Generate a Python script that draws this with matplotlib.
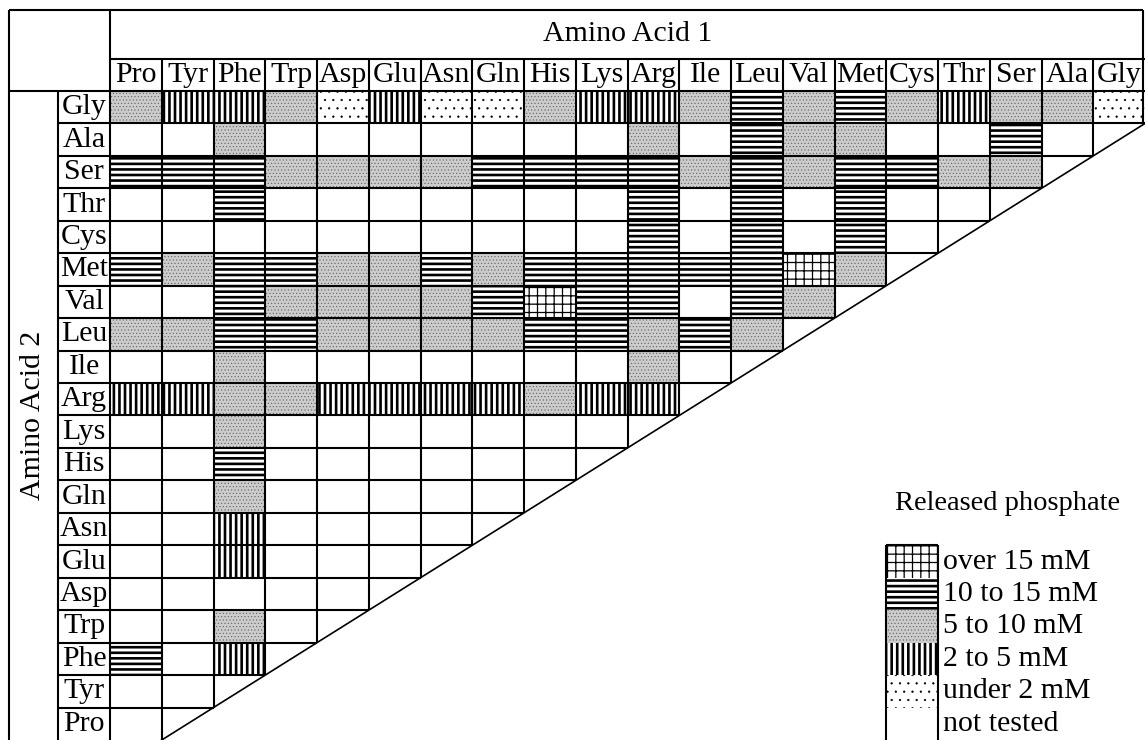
import matplotlib
matplotlib.use('Agg')
import matplotlib.pyplot as plt
from matplotlib.patches import Rectangle

plt.rcParams['font.family'] = ['Liberation Serif', 'DejaVu Serif']

# column headers (Amino Acid 1) and row headers (Amino Acid 2)
acid1 = ['Pro', 'Tyr', 'Phe', 'Trp', 'Asp', 'Glu', 'Asn', 'Gln', 'His', 'Lys',
         'Arg', 'Ile', 'Leu', 'Val', 'Met', 'Cys', 'Thr', 'Ser', 'Ala', 'Gly']
acid2 = ['Gly', 'Ala', 'Ser', 'Thr', 'Cys', 'Met', 'Val', 'Leu', 'Ile', 'Arg',
         'Lys', 'His', 'Gln', 'Asn', 'Glu', 'Asp', 'Trp', 'Phe', 'Tyr', 'Pro']

# released phosphate class per cell, in acid1 order
# X over 15, H 10-15, S 5-10, V 2-5, D under 2, . not tested
gly = 'S V V S D V D D S V V S H S H S V S S D'.split()
ala = '. . S . . . . . . . S . H S S . . H .'.split()
ser = 'H H H S S S S H H H H S H S H H S S'.split()
thr = '. . H . . . . . . . H . H . H . .'.split()
cys = '. . . . . . . . . . H . H . H .'.split()
met = 'H S H H S S H S H H H H H X S'.split()
val = '. . H S S S S H X H H . H S'.split()
leu = 'S S H H S S S S H H S H S'.split()
ile = '. . S . . . . . . . S .'.split()
arg = 'V V S S V V V V S V V'.split()
lys = '. . S . . . . . . .'.split()
his = '. . H . . . . . .'.split()
gln = '. . S . . . . .'.split()
asn = '. . V . . . .'.split()
glu = '. . V . . .'.split()
asp = '. . . . .'.split()
trp = '. . S .'.split()
phe = 'H . V'.split()
tyr = '. .'.split()
pro = '.'.split()
levels = [gly, ala, ser, thr, cys, met, val, leu, ile, arg,
          lys, his, gln, asn, glu, asp, trp, phe, tyr, pro]

legend_codes = ['X', 'H', 'S', 'V', 'D', '.']
legend_labels = ['over 15 mM', '10 to 15 mM', '5 to 10 mM', '2 to 5 mM',
                 'under 2 mM', 'not tested']

styles = {
    'X': dict(fc='white', hatch='++', hlw=0.9, hc='black'),
    'H': dict(fc='white', hatch='---', hlw=1.9, hc='black'),
    'S': dict(fc='#cccccc', hatch='.....', hlw=0.4, hc='#606060'),
    'V': dict(fc='white', hatch='|||', hlw=1.9, hc='black'),
    'D': dict(fc='white', hatch='..', hlw=0.4, hc='black'),
    '.': dict(fc='white', hatch=None, hlw=1.0, hc='black'),
}


def add_cell(ax, x, y, code):
    st = styles[code]
    with plt.rc_context({'hatch.linewidth': st['hlw']}):
        p = Rectangle((x, y), 1, 1, facecolor=st['fc'], edgecolor=st['hc'],
                      linewidth=0, hatch=st['hatch'])
    if hasattr(p, 'set_hatch_linewidth'):
        p.set_hatch_linewidth(st['hlw'])
    ax.add_patch(p)


fig = plt.figure(figsize=(11.45, 7.4), dpi=100)
ax = fig.add_axes([0, 0, 1, 1])
ax.set_xlim(-110 / 51.75, 20)
ax.set_ylim(20, -91 / 32.45)
ax.axis('off')

n = len(acid1)
fs = 21.5
lw = 1.5

# cells
for r, row in enumerate(levels):
    for c, code in enumerate(row):
        add_cell(ax, c, r, code)

# grid lines, clipped by the diagonal
for k in range(1, n):
    ax.hlines(k, 0, n + 1 - k, color='black', lw=lw)
    ax.vlines(k, 0, n + 1 - k, color='black', lw=lw)
ax.plot([n, 0.9], [1, n + 0.1], color='black', lw=1.2)

# frame and header boxes
left, top = -1.95, -2.5
ax.vlines(left, top, n, color='black', lw=lw)
ax.hlines(top, left, n - 0.03, color='black', lw=lw)
ax.vlines(n - 0.03, top, 1, color='black', lw=lw)
ax.vlines(0, top, n, color='black', lw=lw)
ax.hlines(0, left, n, color='black', lw=lw)
ax.hlines(-1, 0, n, color='black', lw=lw)
ax.vlines(-1, 0, n, color='black', lw=lw)
for k in range(1, n):
    ax.vlines(k, -1, 0, color='black', lw=lw)
    ax.hlines(k, -1, 0, color='black', lw=lw)

# labels
for c, name in enumerate(acid1):
    ax.text(c + 0.5, -0.5, name, ha='center', va='center', fontsize=fs)
for r, name in enumerate(acid2):
    ax.text(-0.5, r + 0.5, name, ha='center', va='center', fontsize=fs)
ax.text(n / 2, -1.76, 'Amino Acid 1', ha='center', va='center', fontsize=fs)
ax.text(-1.49, n / 2, 'Amino Acid 2', ha='center', va='center',
        rotation=90, fontsize=fs)

# legend
lx, ly = 15, 14
for i, (code, label) in enumerate(zip(legend_codes, legend_labels)):
    add_cell(ax, lx, ly + i, code)
    ax.text(lx + 1.1, ly + i + 0.5, label, ha='left', va='center', fontsize=fs)
ax.hlines(ly, lx, lx + 1, color='black', lw=lw)
ax.vlines([lx, lx + 1], ly, n, color='black', lw=lw)
ax.text(17.35, 12.7, 'Released phosphate', ha='center', va='center', fontsize=20.5)

fig.savefig('out.png', dpi=100)
